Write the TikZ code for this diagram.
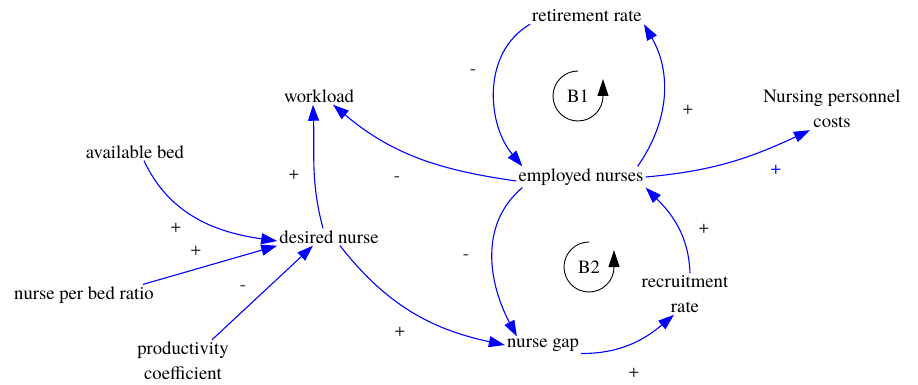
\documentclass[tikz,border=0pt]{standalone}
\usepackage{fontspec}
\setmainfont{TeX Gyre Termes}
\usetikzlibrary{arrows.meta, positioning, calc}

\begin{document}
\begin{tikzpicture}[x=1pt, y=1pt,
  var/.style={inner sep=2pt, align=center, font=\rmfamily\fontsize{18.7}{25}\selectfont},
  sign/.style={inner sep=0pt, font=\rmfamily\fontsize{18.7}{25}\selectfont, text=black!85},
  link/.style={-{Triangle[length=16pt, width=11pt]}, blue, line width=1.1pt},
  loopmark/.style={-{Triangle[length=17pt, width=11pt]}, black, line width=0.9pt},
]
  \useasboundingbox (0,0) rectangle (918,-385);

  % Variables
  \node[var] (ret)   at (587,-16)  {retirement rate};
  \node[var] (work)  at (319,-96)  {workload};
  \node[var] (npc)   at (832,-109) {Nursing personnel\\costs};
  \node[var] (avail) at (135,-152) {available bed};
  \node[var] (emp)   at (581,-177) {employed nurses};
  \node[var] (des)   at (329,-237) {desired nurse};
  \node[var] (npb)   at (84,-295)  {nurse per bed ratio};
  \node[var] (rec)   at (685,-294) {recruitment\\rate};
  \node[var] (gap)   at (543,-345) {nurse gap};
  \node[var] (prod)  at (183,-361) {productivity\\coefficient};

  % Loop markers
  \node[var] (b1) at (578,-96)  {B1};
  \node[var] (b2) at (589,-267) {B2};
  \draw[loopmark] ([shift={(90:25)}]b1.center) arc[start angle=90, end angle=360, radius=25] -- ++(0,17);
  \draw[loopmark] ([shift={(90:25)}]b2.center) arc[start angle=90, end angle=360, radius=25] -- ++(0,17);

  % Links
  \draw[link] (ret.south west) to[out=210, in=130] ([xshift=6pt]emp.north west);
  \draw[link] ([xshift=-8pt]emp.north east) to[out=55, in=-60] (ret.south east);
  \draw[link] ([yshift=-4pt]emp.west) to[out=172, in=-40] ([xshift=14pt]work.south);
  \draw[link] (emp.east) to[out=5, in=205] ([xshift=-22pt]npc.south);
  \draw[link] ([xshift=6pt]emp.south west) to[out=220, in=118] ([xshift=12pt]gap.north west);
  \draw[link] ([xshift=5pt]rec.north) to[out=92, in=-45] (emp.south east);
  \draw[link] (gap.south east) to[out=0, in=220] ([xshift=-11pt]rec.south);
  \draw[link] ([xshift=11pt]des.south) to[out=-52, in=168] (gap.west);
  \draw[link] ([xshift=-6pt]des.north) to[out=105, in=-88] ([xshift=-6pt]work.south);
  \draw[link] ([xshift=9pt]avail.south) to[out=-65, in=172] ([yshift=-4pt]des.west);
  \draw[link] ([xshift=59pt]npb.north) -- (des.south west);
  \draw[link] ([xshift=29pt]prod.north) -- ([xshift=-16pt]des.south);

  % Polarities
  \node[sign] (p1)  at (473,-72)  {-};
  \node[sign] (p2)  at (688,-110) {+};
  \node[sign] (p3)  at (397,-179) {-};
  \node[sign, text=blue] (p4) at (776,-170) {+};
  \node[sign] (p5)  at (466,-257) {-};
  \node[sign] (p6)  at (704,-229) {+};
  \node[sign] (p7)  at (634,-373) {+};
  \node[sign] (p8)  at (400,-332) {+};
  \node[sign] (p9)  at (294,-175) {+};
  \node[sign] (p10) at (176,-228) {+};
  \node[sign] (p11) at (196,-251) {+};
  \node[sign] (p12) at (243,-288) {-};
\end{tikzpicture}
\end{document}
